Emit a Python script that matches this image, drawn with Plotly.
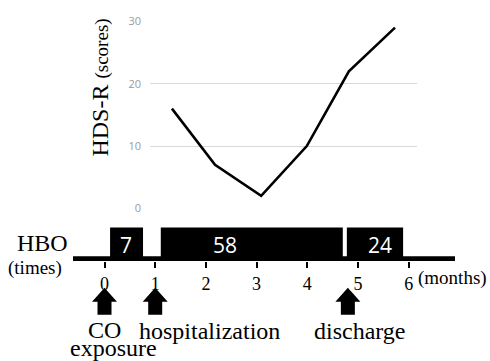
import plotly.graph_objects as go

# ---------------- data ----------------
hds_months = [1.33, 2.18, 3.09, 3.99, 4.82, 5.73]
hds_scores = [16, 7, 2, 10, 22, 29]

hbo_start = [0.11, 1.11, 4.78]
hbo_end = [0.76, 4.70, 5.89]
hbo_counts = [7, 58, 24]
hbo_label_month = [0.43, 2.37, 5.43]

month_ticks = [0, 1, 2, 3, 4, 5, 6]
event_names = ["CO", "hospitalization", "discharge"]
event_months = [0, 1, 4.8]

# ---------------- geometry helpers ----------------
W, H = 490, 361
ORIGIN, SCALE = 104.5, 50.7  # pixel of month 0, pixels per month


def px(x):
    return x / W


def py(y):
    return 1 - y / H


def to_month(p):
    return (p - ORIGIN) / SCALE


SERIF = "Liberation Serif"
SANS = "Open Sans"

fig = go.Figure()

# upper line chart
fig.add_trace(go.Scatter(
    x=hds_months, y=hds_scores, mode="lines",
    line=dict(color="black", width=2.6),
    xaxis="x2", yaxis="y2", showlegend=False, hoverinfo="skip",
))

# HBO blocks
mids = [(s + e) / 2 for s, e in zip(hbo_start, hbo_end)]
widths = [e - s for s, e in zip(hbo_start, hbo_end)]
fig.add_trace(go.Bar(
    x=mids, y=[35] * len(mids), width=widths, base=0,
    marker=dict(color="black", line=dict(width=0)),
    xaxis="x", yaxis="y", showlegend=False, hoverinfo="skip",
))

shapes = []
# baseline bar
shapes.append(dict(type="rect", xref="x", yref="y",
                   x0=to_month(73), x1=to_month(455), y0=0, y1=5,
                   fillcolor="black", line=dict(width=0)))
# block arrows
arrow_path = "M-7,0 L7,0 L7,13 L12.5,13 L0,27 L-12.5,13 L-7,13 Z"
for m in event_months:
    shapes.append(dict(type="path", xref="x", yref="paper",
                       xsizemode="pixel", ysizemode="pixel",
                       xanchor=m, yanchor=py(320),
                       path=arrow_path, fillcolor="black",
                       line=dict(width=0)))

annotations = []
# counts in blocks
for m, c in zip(hbo_label_month, hbo_counts):
    annotations.append(dict(x=m, y=py(247), xref="x", yref="paper",
                            text=str(c), showarrow=False,
                            font=dict(family=SANS, size=21, color="white"),
                            xanchor="center", yanchor="middle"))

# event labels
big = dict(family=SERIF, size=24, color="black")
annotations.append(dict(x=event_months[0], y=py(336), xref="x", yref="paper",
                        text=event_names[0], showarrow=False, font=big,
                        xanchor="center", yanchor="middle"))
annotations.append(dict(x=event_months[0], y=py(355), xref="x", yref="paper",
                        text="exposure", showarrow=False, xshift=9, font=big,
                        xanchor="center", yanchor="middle"))
annotations.append(dict(x=event_months[1], y=py(337), xref="x", yref="paper",
                        text=event_names[1], showarrow=False, xshift=54,
                        font=big, xanchor="center", yanchor="middle"))
annotations.append(dict(x=event_months[2], y=py(337), xref="x", yref="paper",
                        text=event_names[2], showarrow=False, xshift=12,
                        font=big, xanchor="center", yanchor="middle"))

# left labels
annotations.append(dict(x=px(42), y=py(245), xref="paper", yref="paper",
                        text="HBO", showarrow=False, font=big,
                        xanchor="center", yanchor="middle"))
annotations.append(dict(x=px(35), y=py(271), xref="paper", yref="paper",
                        text="(times)", showarrow=False,
                        font=dict(family=SERIF, size=19, color="black"),
                        xanchor="center", yanchor="middle"))
annotations.append(dict(x=px(489), y=py(282), xref="paper", yref="paper",
                        text="(months)", showarrow=False,
                        font=dict(family=SERIF, size=19, color="black"),
                        xanchor="right", yanchor="middle"))
# y title
annotations.append(dict(x=px(100), y=py(83), xref="paper", yref="paper",
                        text="HDS-R <span style='font-size:19px'>(scores)</span>",
                        textangle=-90, showarrow=False, font=big,
                        xanchor="center", yanchor="middle"))

fig.update_layout(
    width=W, height=H,
    margin=dict(l=0, r=0, t=0, b=0),
    paper_bgcolor="white", plot_bgcolor="rgba(0,0,0,0)",
    showlegend=False,
    shapes=shapes, annotations=annotations,
    xaxis=dict(domain=[0, 1], range=[to_month(0), to_month(W)],
               anchor="y", tickmode="array", tickvals=month_ticks,
               ticktext=[str(t) for t in month_ticks],
               ticks="outside", ticklen=6, tickwidth=2, tickcolor="black",
               tickfont=dict(family=SERIF, size=18, color="black"),
               showgrid=False, zeroline=False, showline=False,
               fixedrange=True),
    yaxis=dict(domain=[py(264), py(219)], range=[0, 45], visible=False,
               fixedrange=True),
    xaxis2=dict(domain=[px(150), px(417)], range=[to_month(150), to_month(417)],
                anchor="y2", visible=False, fixedrange=True),
    yaxis2=dict(domain=[py(209), py(14)], range=[0, 30], anchor="x2",
                tickvals=[0, 10, 20, 30], showgrid=True, gridcolor="#d9d9d9",
                gridwidth=1, zeroline=False, showline=False, ticks="",
                ticklabelstandoff=8,
                tickfont=dict(family=SANS, size=11, color="#9a9a9a"),
                fixedrange=True),
)

fig.write_html("out.html",
               config={"displayModeBar": False},
               post_script="document.body.style.margin='0px';")
